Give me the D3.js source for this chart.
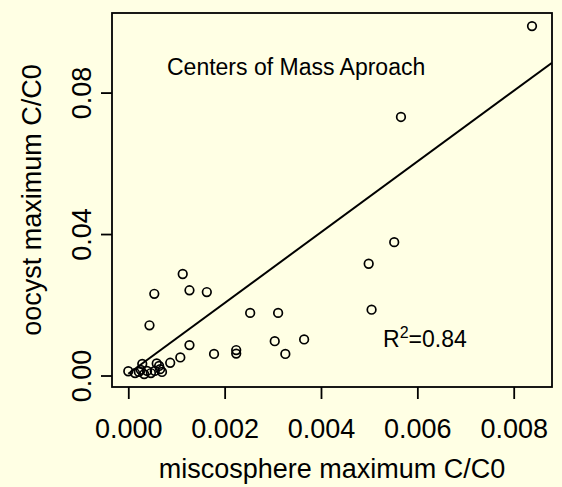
<!DOCTYPE html>
<html>
<head>
<meta charset="utf-8">
<script src="https://cdn.jsdelivr.net/npm/d3@7"></script>
<style>
  html, body { margin: 0; padding: 0; background: #FFFFE4; }
  svg { display: block; }
  text { font-family: "Liberation Sans", Arial, Helvetica, sans-serif; fill: #000; }
</style>
</head>
<body>
<svg id="chart" width="562" height="487"></svg>
<script>
// Maximum relative concentration: microsphere (x) vs oocyst (y)
const microsphereMax = [
  0.00838, 0.00566, 0.00552, 0.00499, 0.00505, 0.00365, 0.00326, 0.00304,
  0.00311, 0.00253, 0.00224, 0.00224, 0.00178, 0.00163, 0.00127, 0.00113,
  0.00127, 0.00108, 0.00087, 0.00054, 0.00044, 0.00000, 0.00029, 0.00059,
  0.00064, 0.00014, 0.00022, 0.00033, 0.00039, 0.00047, 0.00066, 0.00070,
  0.00026, 0.00055
];
const oocystMax = [
  0.0988, 0.0731, 0.0377, 0.0316, 0.0186, 0.0102, 0.0061, 0.0097,
  0.0177, 0.0177, 0.0072, 0.0062, 0.0061, 0.0236, 0.0241, 0.0287,
  0.0086, 0.0051, 0.0036, 0.0231, 0.0142, 0.0012, 0.0033, 0.0034,
  0.0027, 0.0007, 0.0010, 0.0004, 0.0013, 0.0007, 0.0018, 0.0010,
  0.0016, 0.0013
];
const xTicks = [0.000, 0.002, 0.004, 0.006, 0.008];
const xTickLabels = ["0.000", "0.002", "0.004", "0.006", "0.008"];
const yTicks = [0.00, 0.04, 0.08];
const yTickLabels = ["0.00", "0.04", "0.08"];
// Least-squares fit
const fitSlope = 10.0;
const fitIntercept = 0.0005;
const rSquared = "0.84";

const svg = d3.select("#chart");
const box = { left: 112, right: 552, top: 13, bottom: 387 };

const x = d3.scaleLinear().domain([-0.000338, 0.008795]).range([box.left, box.right]);
const y = d3.scaleLinear().domain([-0.00325, 0.1025]).range([box.bottom, box.top]);

// clip for the fitted line
svg.append("clipPath").attr("id", "plotArea")
  .append("rect")
  .attr("x", box.left).attr("y", box.top)
  .attr("width", box.right - box.left).attr("height", box.bottom - box.top);

// regression line
const x0 = 0, x1 = x.domain()[1];
svg.append("line")
  .attr("clip-path", "url(#plotArea)")
  .attr("x1", x(x0)).attr("y1", y(fitSlope * x0 + fitIntercept))
  .attr("x2", x(x1)).attr("y2", y(fitSlope * x1 + fitIntercept))
  .attr("stroke", "#000").attr("stroke-width", 2);

// points
svg.append("g").selectAll("circle")
  .data(microsphereMax.map((v, i) => [v, oocystMax[i]]))
  .join("circle")
  .attr("cx", d => x(d[0]))
  .attr("cy", d => y(d[1]))
  .attr("r", 4.3)
  .attr("fill", "none")
  .attr("stroke", "#000")
  .attr("stroke-width", 1.7);

// frame
svg.append("rect")
  .attr("x", box.left).attr("y", box.top)
  .attr("width", box.right - box.left).attr("height", box.bottom - box.top)
  .attr("fill", "none").attr("stroke", "#000").attr("stroke-width", 1.8);

// x axis
const xAxis = d3.axisBottom(x)
  .tickValues(xTicks)
  .tickFormat((d, i) => xTickLabels[i])
  .tickSize(12)
  .tickPadding(20);
const gx = svg.append("g").attr("transform", `translate(0,${box.bottom})`).call(xAxis);
gx.select(".domain").remove();
gx.selectAll(".tick line").attr("stroke", "#000").attr("stroke-width", 1.8);
gx.selectAll(".tick text")
  .attr("font-size", 27)
  .attr("font-family", "Liberation Sans, Arial, sans-serif")
  .attr("fill", "#000");

// y axis
const yAxis = d3.axisLeft(y)
  .tickValues(yTicks)
  .tickFormat((d, i) => yTickLabels[i])
  .tickSize(11)
  .tickPadding(0);
const gy = svg.append("g").attr("transform", `translate(${box.left},0)`).call(yAxis);
gy.select(".domain").remove();
gy.selectAll(".tick line").attr("stroke", "#000").attr("stroke-width", 1.8);
gy.selectAll(".tick text")
  .attr("font-size", 27)
  .attr("font-family", "Liberation Sans, Arial, sans-serif")
  .attr("fill", "#000")
  .attr("x", 0).attr("dy", 0)
  .attr("text-anchor", "middle")
  .attr("transform", "translate(-21,0) rotate(-90)");

// axis titles
svg.append("text")
  .attr("x", (box.left + box.right) / 2).attr("y", 478)
  .attr("text-anchor", "middle").attr("font-size", 27)
  .text("miscosphere maximum C/C0");

svg.append("text")
  .attr("transform", `translate(41,${(box.top + box.bottom) / 2}) rotate(-90)`)
  .attr("text-anchor", "middle").attr("font-size", 27)
  .text("oocyst maximum C/C0");

// annotations
svg.append("text")
  .attr("x", 167).attr("y", 75)
  .attr("font-size", 23)
  .text("Centers of Mass Aproach");

const r2 = svg.append("text")
  .attr("x", 383).attr("y", 347)
  .attr("font-size", 23);
r2.append("tspan").text("R");
r2.append("tspan").attr("font-size", 16).attr("dy", -9).text("2");
r2.append("tspan").attr("dy", 9).text("=" + rSquared);
</script>
</body>
</html>
